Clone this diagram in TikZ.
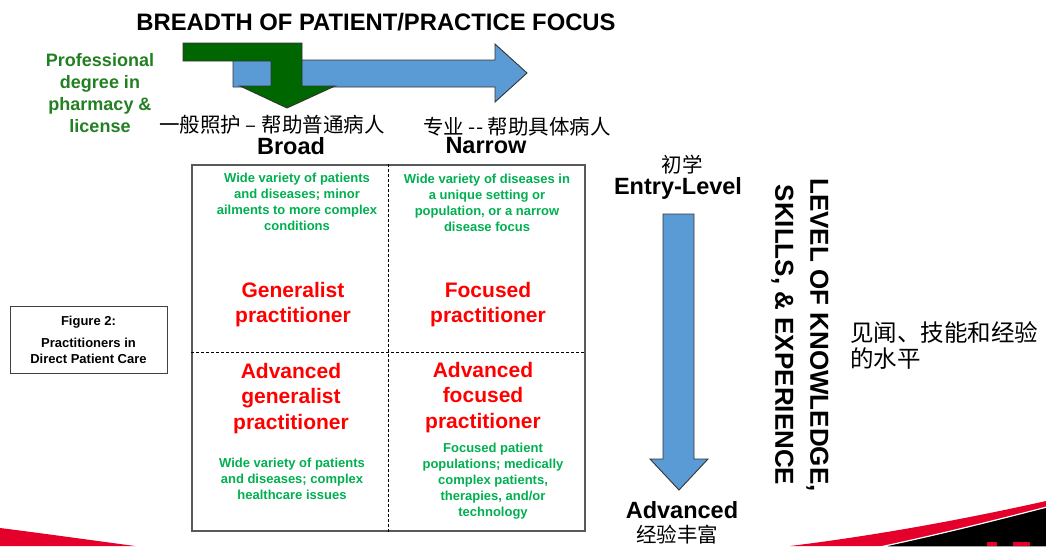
\documentclass[tikz,border=0pt]{standalone}
\usepackage{fontspec}
\setmainfont{Liberation Sans}
\newfontfamily\cjk{Noto Sans CJK SC}
\definecolor{arrowblue}{RGB}{91,155,213}
\definecolor{arrowgreen}{RGB}{0,102,0}
\definecolor{degreegreen}{RGB}{34,128,34}
\definecolor{notegreen}{RGB}{0,176,80}
\definecolor{rolered}{RGB}{255,0,0}
\definecolor{swoosh}{RGB}{228,0,43}
\begin{document}
\begin{tikzpicture}[x=1pt,y=-1pt,
    every node/.style={inner sep=0pt},
    head/.style={font=\bfseries\fontsize{23.5}{26}\selectfont},
    zh/.style={font=\cjk\fontsize{20.5}{24}\selectfont},
    note/.style={text=notegreen,align=center,font=\bfseries\fontsize{13}{16}\selectfont},
    role/.style={text=rolered,align=center,font=\bfseries\fontsize{21}{25.3}\selectfont},
    blockarrow/.style={draw=black!80,line width=0.9pt,line join=miter},
    divider/.style={line width=0.8pt,dash pattern=on 3pt off 2pt}]
\useasboundingbox (0,0) rectangle (1046,546);
\fill[white] (0,0) rectangle (1046,546);
% slide corners
\fill[swoosh] (0,528) .. controls (40,533) and (90,540) .. (135,546) -- (0,546) -- cycle;
\fill[swoosh] (790,546) .. controls (880,535) and (970,518) .. (1046,501) -- (1046,546) -- cycle;
\filldraw[fill=black,draw=white,line width=1.2pt] (880,547) .. controls (950,532) and (1000,519) .. (1047,507) -- (1047,547) -- cycle;
\fill[swoosh] (987,542) rectangle (997,546);
\fill[swoosh] (1013,542) rectangle (1030,546);
% breadth
\node (title) at (376,22)[font=\bfseries\fontsize{23.8}{28}\selectfont]{BREADTH OF PATIENT/PRACTICE FOCUS};
\node (degree) at (100,93)[text=degreegreen,align=center,font=\bfseries\fontsize{18}{22}\selectfont]{Professional\\degree in\\pharmacy \&\\license};
\draw[blockarrow,fill=arrowblue] (233,60) -- (495,60) -- (495,44) -- (527,73) -- (495,102) -- (495,87) -- (233,87) -- cycle;
\draw[blockarrow,fill=arrowgreen] (183,43) -- (302,43) -- (302,86) -- (335,86) -- (287,108) -- (240,86) -- (271,86) -- (271,61) -- (183,61) -- cycle;
\node (broadzh) at (272,125)[zh]{一般照护 – 帮助普通病人};
\node (narrowzh) at (517,127)[zh]{专业 -- 帮助具体病人};
\node (broad) at (291,146)[head]{Broad};
\node (narrow) at (486,146)[head]{Narrow};
% grid
\node (grid) at (388.5,348)[draw=gray!70!black,line width=1.2pt,minimum width=393pt,minimum height=366pt]{};
\coordinate (split) at (0,352);
\draw[divider] (grid.north) -- (grid.south);
\draw[divider] (grid.west |- split) -- (grid.east |- split);
\node (tlnote) at (297,202)[note]{Wide variety of patients\\and diseases; minor\\ailments to more complex\\conditions};
\node (trnote) at (487,203)[note]{Wide variety of diseases in\\a unique setting or\\population, or a narrow\\disease focus};
\node (tlrole) at (293,304.5)[role]{Generalist\\practitioner};
\node (trrole) at (488,304.5)[role]{Focused\\practitioner};
\node (blrole) at (291,398.5)[role]{Advanced\\generalist\\practitioner};
\node (brrole) at (483,397.5)[role]{Advanced\\focused\\practitioner};
\node (blnote) at (292,479)[note]{Wide variety of patients\\and diseases; complex\\healthcare issues};
\node (brnote) at (493,481)[note]{Focused patient\\populations; medically\\complex patients,\\therapies, and/or\\technology};
\node (figure) at (88.5,339.5)[draw=black!75,line width=1pt,minimum width=157pt,minimum height=67pt,align=center,font=\bfseries\fontsize{13}{16}\selectfont]{Figure 2:\\[6pt]Practitioners in\\Direct Patient Care};
% level
\node (entryzh) at (682,165)[zh]{初学};
\node (entry) at (678,188)[head]{Entry-Level};
\draw[blockarrow,fill=arrowblue] (663,214) -- (694,214) -- (694,459) -- (708,459) -- (679,490) -- (650,459) -- (663,459) -- cycle;
\node (advanced) at (682,510)[head]{Advanced};
\node (advancedzh) at (677,535)[zh]{经验丰富};
\node (level) at (800,335)[rotate=-90,align=center,font=\bfseries\fontsize{26}{35}\selectfont]{LEVEL OF KNOWLEDGE,\\SKILLS, \& EXPERIENCE};
\node (levelzh) at (850,345)[anchor=west,align=left,font=\cjk\fontsize{23.5}{26}\selectfont]{见闻、技能和经验\\的水平};
\end{tikzpicture}
\end{document}
